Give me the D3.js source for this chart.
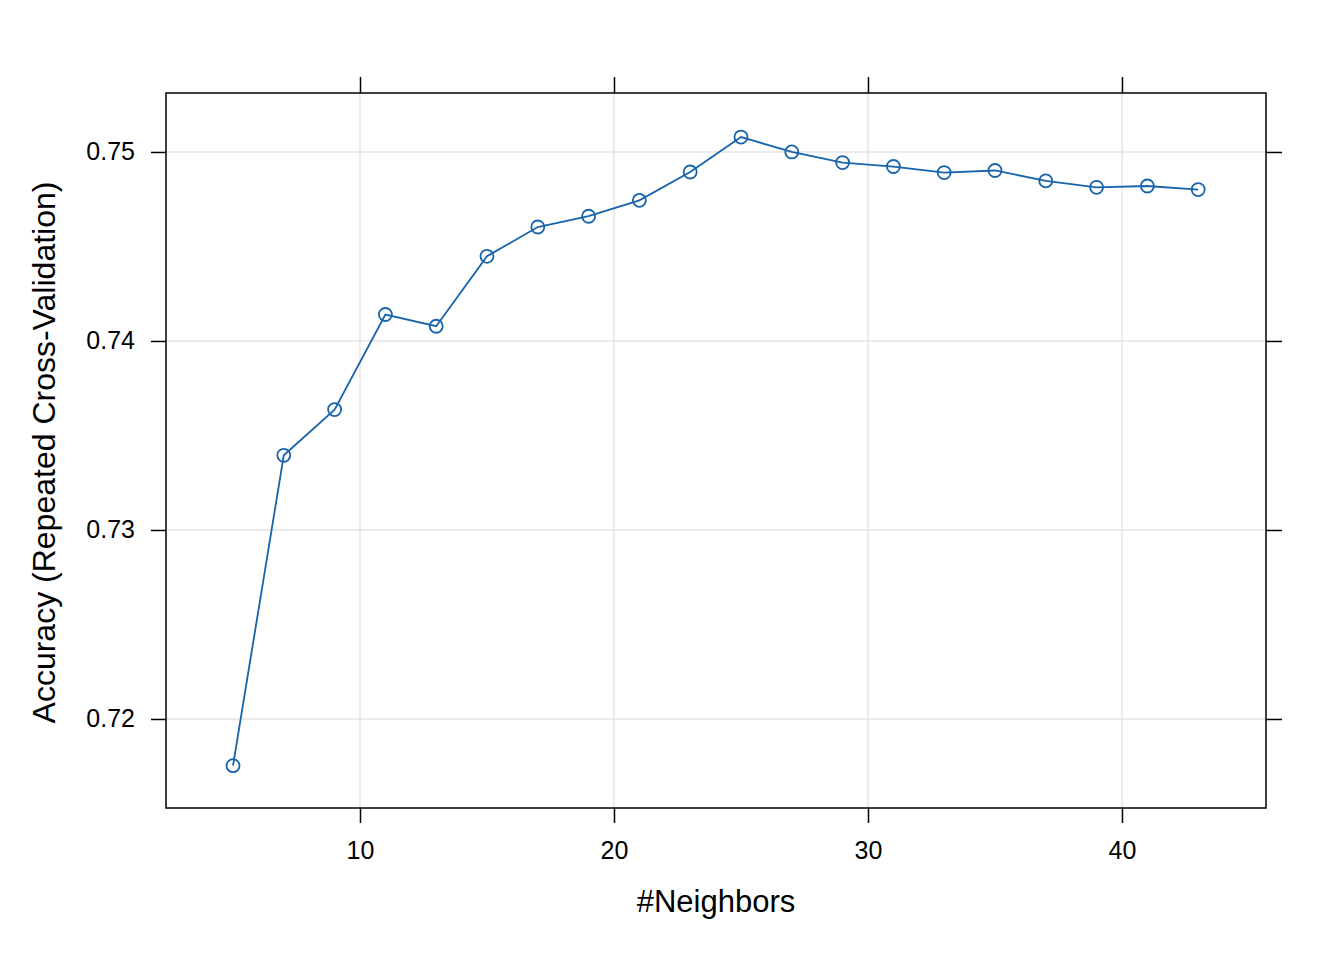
<!DOCTYPE html>
<html>
<head>
<meta charset="utf-8">
<script src="https://cdn.jsdelivr.net/npm/d3@7"></script>
<style>
  body { margin: 0; background: #fff; }
  text { font-family: "Liberation Sans", Arial, Helvetica, sans-serif; fill: #000; }
</style>
</head>
<body>
<svg id="chart" width="1344" height="960"></svg>
<script>
// k values and resampled accuracy
var neighbors = [5, 7, 9, 11, 13, 15, 17, 19, 21, 23, 25, 27, 29, 31, 33, 35, 37, 39, 41, 43];
var accuracy = [0.71753, 0.73395, 0.73637, 0.74140, 0.74078, 0.74448, 0.74603, 0.74660,
    0.74744, 0.74894, 0.75079, 0.75000, 0.74944, 0.74923, 0.74891, 0.74902,
    0.74847, 0.74813, 0.74820, 0.74801];
var xTicks = [10, 20, 30, 40];
var yTicks = [0.72, 0.73, 0.74, 0.75];

var svg = d3.select("#chart");
var pLeft = 166, pRight = 1266, pTop = 93, pBottom = 808;
var col = "#1764ab";

var x = d3.scaleLinear().domain([2.362, 45.67]).range([pLeft, pRight]);
var y = d3.scaleLinear().domain([0.71529, 0.75312]).range([pBottom, pTop]);

// grid lines
var grid = svg.append("g");
grid.selectAll(".gx").data(xTicks).enter().append("line")
    .attr("x1", function (d) { return x(d); })
    .attr("x2", function (d) { return x(d); })
    .attr("y1", pTop).attr("y2", pBottom)
    .attr("stroke", "#e5e5e5").attr("stroke-width", 1.5);
grid.selectAll(".gy").data(yTicks).enter().append("line")
    .attr("y1", function (d) { return y(d); })
    .attr("y2", function (d) { return y(d); })
    .attr("x1", pLeft).attr("x2", pRight)
    .attr("stroke", "#e5e5e5").attr("stroke-width", 1.5);

// axes, ticks outside on all four sides
function styleAxis(g) {
    g.select(".domain").remove();
    g.selectAll(".tick line").attr("stroke", "#000").attr("stroke-width", 1.5);
    g.selectAll(".tick text").attr("font-size", "25px")
        .attr("font-family", "Liberation Sans, Arial, sans-serif");
}
svg.append("g").attr("transform", "translate(0," + pBottom + ")")
    .call(d3.axisBottom(x).tickValues(xTicks).tickSize(15).tickPadding(18))
    .call(styleAxis);
svg.append("g").attr("transform", "translate(0," + pTop + ")")
    .call(d3.axisTop(x).tickValues(xTicks).tickSize(16).tickFormat(""))
    .call(styleAxis);
svg.append("g").attr("transform", "translate(" + pLeft + ",0)")
    .call(d3.axisLeft(y).tickValues(yTicks).tickSize(15).tickPadding(16).tickFormat(d3.format(".2f")))
    .call(styleAxis);
svg.append("g").attr("transform", "translate(" + pRight + ",0)")
    .call(d3.axisRight(y).tickValues(yTicks).tickSize(16).tickFormat(""))
    .call(styleAxis);

// panel border
svg.append("rect")
    .attr("x", pLeft).attr("y", pTop)
    .attr("width", pRight - pLeft).attr("height", pBottom - pTop)
    .attr("fill", "none").attr("stroke", "#000").attr("stroke-width", 1.5);

// line and points
var line = d3.line()
    .x(function (d, i) { return x(neighbors[i]); })
    .y(function (d) { return y(d); });
svg.append("path")
    .datum(accuracy)
    .attr("d", line)
    .attr("fill", "none").attr("stroke", col).attr("stroke-width", 1.8);
svg.selectAll(".pt").data(accuracy).enter().append("circle")
    .attr("class", "pt")
    .attr("cx", function (d, i) { return x(neighbors[i]); })
    .attr("cy", function (d) { return y(d); })
    .attr("r", 6.5)
    .attr("fill", "none").attr("stroke", col).attr("stroke-width", 1.8);

// axis titles
svg.append("text")
    .attr("x", (pLeft + pRight) / 2).attr("y", 912)
    .attr("text-anchor", "middle").attr("font-size", "31px")
    .text("#Neighbors");
svg.append("text")
    .attr("transform", "translate(55," + ((pTop + pBottom) / 2 + 2) + ") rotate(-90)")
    .attr("text-anchor", "middle").attr("font-size", "32px")
    .text("Accuracy (Repeated Cross-Validation)");
</script>
</body>
</html>
